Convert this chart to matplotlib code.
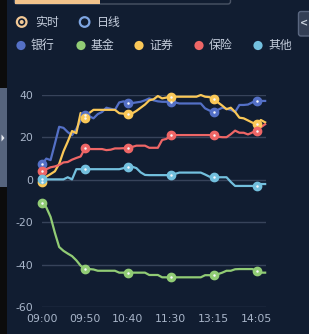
import matplotlib
matplotlib.use("Agg")
import matplotlib.pyplot as plt
from matplotlib.patches import Circle, Rectangle, FancyBboxPatch, Polygon

W, H = 309, 334
DPI = 100

# ---------------- data ----------------
tick_labels = ["09:00", "09:50", "10:40", "11:30", "13:15", "14:05"]
tick_idx = [0, 10, 20, 30, 40, 50]
series_names = ["银行", "基金", "证券", "保险", "其他"]
colors = ["#5470c6", "#91cc75", "#fac858", "#ee6666", "#73c0de"]

bank = [7.3, 10, 9.3, 17, 25, 24.5, 22.5, 21, 24, 28,
        30.5, 30, 29, 31, 32, 34, 33.5, 33, 36.5, 37,
        36.2, 36.2, 36.5, 36.8, 37.5, 38.4, 37.5, 37, 36.8, 36.8,
        36.8, 36.5, 36, 36, 36, 36, 36, 36, 33.7, 32.7,
        32, 33, 34, 33.5, 33, 32, 35.3, 35.3, 35.5, 36.5,
        37.2, 37.2, 37.2]
fund = [-10.8, -13, -17.5, -25, -31.7, -33.5, -34.8, -36, -38, -40.5,
        -42.1, -42.1, -42.3, -42.9, -42.9, -42.9, -42.9, -42.9, -43.8, -43.8,
        -43.8, -43.8, -43.8, -43.8, -43.8, -44.9, -44.9, -44.9, -46, -46,
        -46, -46, -46, -46, -46, -46, -46, -46, -45, -45,
        -45, -44.5, -43.8, -42.9, -42.9, -42.2, -42.1, -42.1, -42.1, -42.1,
        -42.9, -43.8, -43.8]
securities = [-1.2, 1.5, 2.7, 4, 7.5, 13.4, 18, 23, 22, 31.5,
              29.2, 31.5, 33, 33, 33, 33, 33, 33, 31.4, 31.2,
              31, 31.3, 32.5, 34, 35.5, 37.5, 38, 39.5, 38.4, 38.8,
              39.2, 39.2, 39.2, 39.2, 39.2, 39.2, 39.2, 40, 39.2, 39,
              38, 36.5, 35, 33.3, 34, 32, 29.3, 29, 28, 27,
              26.2, 28.2, 27.1]
insurance = [4.2, 5, 5.9, 6.3, 7, 8.2, 8.4, 9.5, 10.3, 11,
             14.8, 14.5, 14.5, 14.5, 14.5, 14, 14.2, 14.8, 14.8, 14.9,
             14.9, 15.5, 16.1, 16.1, 16.1, 15.1, 15.1, 15.1, 18.8, 19.3,
             21.1, 21.1, 21.1, 21.1, 21.1, 21.1, 21.1, 21.1, 21.1, 21.1,
             21.1, 20.3, 20.1, 20.1, 21.5, 23.2, 22.2, 22.2, 21.4, 22.3,
             23.2, 24.8, 26.2]
others = [0.2, 0.2, 0.2, 0.2, 0.2, 0.2, 1.2, 0.2, 5, 5,
          5, 5, 5, 5, 5, 5, 5, 5, 5, 5.5,
          6.2, 6.2, 5.5, 3.5, 2.3, 2.2, 2.2, 2.2, 2.2, 2.2,
          2.2, 2.8, 3.4, 3.4, 3.4, 3.4, 3.4, 3.4, 2.5, 1.5,
          1.2, 1.2, 1.2, 1.2, -1, -2.9, -2.9, -2.9, -2.9, -2.9,
          -2.9, -2, -2]
series = [bank, fund, securities, insurance, others]
y_ticks = [-60, -40, -20, 0, 20, 40]

# ---------------- figure ----------------
BG = "#111d31"
TXT = "#c5cedd"
AX_TXT = "#a9b6ca"
CJK = ["Noto Sans CJK SC", "DejaVu Sans"]

fig = plt.figure(figsize=(W / DPI, H / DPI), dpi=DPI)
fig.patch.set_facecolor(BG)

deco = fig.add_axes([0, 0, 1, 1])
deco.set_xlim(0, W)
deco.set_ylim(H, 0)
deco.axis("off")
deco.set_zorder(0)

# left strip and tab
deco.add_patch(Rectangle((0, 0), 6.5, H, facecolor="#0c0c0c", edgecolor="none"))
deco.add_patch(Rectangle((0, 88), 6.5, 99, facecolor="#56647d", edgecolor="none"))
deco.add_patch(Polygon([(1.5, 134.5), (1.5, 141.5), (4.5, 138)], closed=True,
                       facecolor="#e8ecf2", edgecolor="none"))

# top bar
deco.add_patch(FancyBboxPatch((14.5, -6), 216, 10, boxstyle="round,pad=0,rounding_size=2.5",
                              facecolor="none", edgecolor="#4a5466", linewidth=1))
deco.add_patch(Rectangle((14.5, -1), 85.5, 4.5, facecolor="#f2c38b", edgecolor="none"))

# right tab
deco.add_patch(FancyBboxPatch((298.5, 11.5), 14, 24.5, boxstyle="round,pad=0,rounding_size=2.5",
                              facecolor="#333f55", edgecolor="#5a6780", linewidth=1))
deco.text(304.5, 23.5, "<", color="#c8d0dc", fontsize=7, ha="center", va="center",
          fontweight="bold")

# radio buttons
deco.add_patch(Circle((21.7, 22), 4.8, facecolor="none", edgecolor="#f2c896", linewidth=1.6))
deco.add_patch(Circle((21.7, 22), 2.0, facecolor="#f2c896", edgecolor="none"))
deco.text(35, 22.5, "实时", color=TXT, fontsize=8.6, ha="left", va="center", family=CJK)
deco.add_patch(Circle((84.6, 22), 4.8, facecolor="none", edgecolor="#7fa6e2", linewidth=1.6))
deco.text(97, 22.5, "日线", color=TXT, fontsize=8.6, ha="left", va="center", family=CJK)

# legend
leg_x = [21, 81, 139, 199, 258]
for cx, name, col in zip(leg_x, series_names, colors):
    deco.add_patch(Circle((cx, 45.5), 4.6, facecolor=col, edgecolor="none"))
    deco.text(cx + 10, 45.5, name, color=TXT, fontsize=8.6, ha="left", va="center", family=CJK)

# ---------------- main plot ----------------
left, right = 42, 266
top, bottom = 95, 307
ax = fig.add_axes([left / W, (H - bottom) / H, (right - left) / W, (bottom - top) / H])
ax.set_facecolor("none")
ax.set_zorder(1)
n = len(bank)
xs = list(range(n))
ax.set_xlim(0, 52.2)
ax.set_ylim(-60, 40)
for yt in y_ticks:
    ax.axhline(yt, color="#37435a", linewidth=1, zorder=1)

for vals, col in zip(series, colors):
    ax.plot(xs, vals, color=col, linewidth=1.6, zorder=3, clip_on=False,
            solid_joinstyle="round")
    mx = [xs[i] for i in tick_idx]
    my = [vals[i] for i in tick_idx]
    ax.plot(mx, my, linestyle="none", marker="o", markersize=6,
            markerfacecolor=col, markeredgecolor=col, zorder=4, clip_on=False)
    ax.plot(mx, my, linestyle="none", marker="o", markersize=1.8,
            markerfacecolor="#f4f6fa", markeredgecolor="none", zorder=5, clip_on=False)

ax.set_yticks(y_ticks)
ax.set_yticklabels([str(v) for v in y_ticks])
ax.set_xticks(tick_idx)
ax.set_xticklabels(tick_labels)
ax.tick_params(axis="both", length=0, colors=AX_TXT, labelsize=7.8)
ax.tick_params(axis="y", pad=6.5)
ax.tick_params(axis="x", pad=5)
for s in ax.spines.values():
    s.set_visible(False)

fig.savefig("out.png", dpi=DPI, facecolor=BG)
